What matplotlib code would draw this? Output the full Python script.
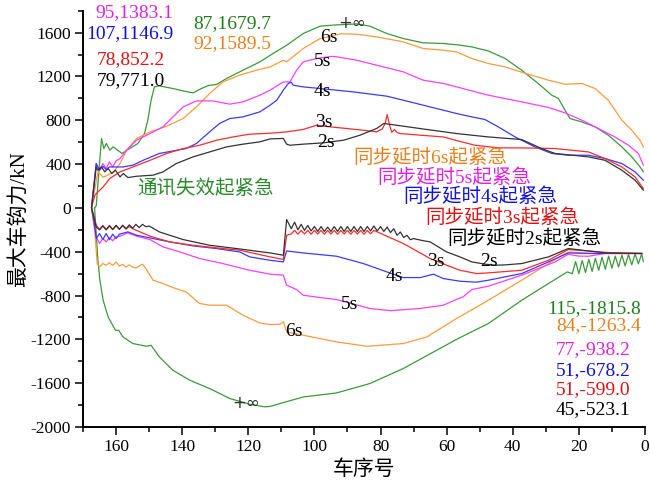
import matplotlib
matplotlib.use("Agg")
import matplotlib.pyplot as plt
from matplotlib.ticker import MultipleLocator

plt.rcParams['font.family'] = ['Liberation Serif', 'Noto Sans CJK SC', 'DejaVu Sans']
plt.rcParams['axes.unicode_minus'] = False

# ---- 最大拉钩力 (正) ----
x_inf_up = [166.5, 166.0, 164.4, 163.7, 162.9, 161.9, 160.9, 158.8, 158.2, 155.9, 153.4, 151.4,
            150.4, 149.4, 148.4, 146.9, 142.8, 139.7, 136.7, 134.2, 132.1, 129.6, 126.6, 121.6,
            116.5, 112.5, 108.4, 103.4, 98.3, 93.3, 87, 83.2, 78.1, 73.1, 67.1, 61, 56.5, 52.4,
            47.4, 42.3, 37.3, 32.3, 28.2, 26.2, 24.2, 22.7, 19.1, 15.1, 11.1, 7, 4, 1.5, 0.5]
y_inf_up = [0, 20, 634, 542, 588, 527, 557, 511, 497, 542, 588, 679,
            801, 983, 1105, 1114, 1090, 1068, 1050, 1090, 1117, 1127, 1181, 1257,
            1333, 1410, 1485, 1592, 1659, 1671, 1679.7, 1659, 1592, 1546, 1507, 1501, 1488, 1470,
            1433, 1364, 1257, 1136, 1029, 999, 892, 816, 785, 740, 664, 557, 466, 374, 329]

x_6s_up = [167.4, 165.5, 163.9, 162.8, 160.8, 158.8, 156.8, 153.8, 149.7, 144.7, 139.7, 135.7,
           131.7, 127.7, 122.6, 117.6, 113.4, 110.4, 109.4, 108.4, 103.4, 98.3, 92, 87.2, 81.2,
           73.1, 67.1, 61, 57, 52.4, 47.4, 42.3, 35.3, 29.2, 24.2, 19.1, 15.1, 11.1, 7, 4, 1.5, 0.5]
y_6s_up = [9, 329, 280, 295, 329, 405, 527, 634, 694, 746, 816, 922,
           1044, 1150, 1212, 1257, 1287, 1333, 1348, 1333, 1455, 1546, 1589.5, 1586, 1561,
           1516, 1455, 1440, 1424, 1364, 1318, 1287, 1220, 1166, 1129, 1136, 1090, 983, 801, 709, 618, 557]

x_5s_up = [167.4, 166, 165, 164, 163, 162, 161, 160, 158.8, 156.8, 153.8, 149.7, 145.8, 142.8,
           139.7, 135.7, 130.7, 125.6, 121.6, 116.5, 113.4, 109.4, 107.4, 105.4, 103.4, 99.3,
           95, 93.3, 87.2, 81.2, 73.1, 67.1, 61, 57, 47.4, 37.3, 29.2, 24.2, 19.1, 13.1, 9.1,
           5, 2, 0.5]
y_5s_up = [9, 405, 344, 405, 360, 420, 374, 430, 451, 527, 618, 679, 740, 831,
           922, 977, 977, 947, 968, 1029, 1075, 1150, 1150, 1257, 1333, 1364,
           1383.1, 1380, 1348, 1303, 1242, 1166, 1136, 1105, 1029, 968, 917, 868, 801, 709, 648,
           572, 497, 390]

x_4s_up = [167.4, 166, 165, 164, 163, 162, 160.8, 157.9, 154.9, 151.8, 146.9, 142.8, 138.8,
           135.7, 131.7, 128.7, 125.6, 121.6, 116.5, 113.4, 111.4, 109.4, 107.9, 107, 106.4,
           103.4, 98.3, 88.2, 78.1, 71.1, 65, 57, 52.4, 48.4, 44.4, 39.3, 33.3, 28.2, 23.2,
           17.1, 12.1, 7, 3, 0.5]
y_4s_up = [9, 405, 344, 380, 350, 374, 374, 374, 390, 435, 497, 520, 542,
           588, 694, 771, 816, 831, 877, 938, 983, 1075, 1136, 1146.9, 1120,
           1105, 1090, 1059, 1020, 968, 922, 862, 831, 807, 740, 648, 557, 497, 481,
           481, 451, 405, 329, 253]

x_3s_up = [167.4, 166.4, 165.5, 163.9, 161.9, 158.8, 154.9, 149.7, 144.7, 139.7, 134.7, 129.6,
           124.6, 119.6, 113.4, 108.4, 103.4, 99.3, 95.3, 90.2, 85.2, 81.2, 79.5, 78.6, 78,
           77.3, 76.6, 75.8, 75, 74.1, 68, 61, 57, 51.4, 44.4, 37.3, 27.2, 17.1, 12.1, 7, 3, 0.5]
y_3s_up = [9, 116, 146, 192, 268, 329, 374, 435, 497, 542, 572, 618,
           648, 673, 682, 694, 716, 755, 740, 725, 709, 694, 720, 771, 852.2,
           760, 690, 715, 690, 679, 664, 648, 615, 572, 548, 548, 542, 511, 451, 374, 283, 177]

x_2s_up = [167.4, 166, 165.5, 164.4, 163.4, 162.4, 161.3, 160.2, 158.8, 157.8, 156.4, 153.8,
           148.8, 145.8, 141.8, 136.7, 131.7, 126.6, 121.6, 116.5, 113.4, 109.4, 108.4, 107.4,
           103.4, 97.3, 91.2, 86.2, 81.2, 79, 73.1, 66, 57, 47.4, 37.3, 31.3, 27.2, 17.1, 12.1,
           7, 3, 0.5]
y_2s_up = [9, 374, 344, 374, 329, 360, 314, 344, 283, 314, 277, 289,
           299, 329, 405, 466, 511, 557, 582, 603, 630, 634, 582, 572,
           582, 594, 618, 664, 725, 771.0, 746, 716, 679, 648, 624, 542, 497, 466, 435,
           344, 253, 162]

# ---- 最大压钩力 (负) ----
x_inf_dn = [166.5, 166, 165.5, 164.9, 163.9, 162.4, 160.2, 159.2, 157.9, 154.9, 150.8, 149.4,
            146.9, 142.8, 137.7, 131.7, 125.6, 119.6, 115, 113.4, 103.4, 93.3, 83.2, 73.1, 63,
            57, 52.4, 47.4, 37.3, 29.2, 23.5,
            22, 21, 20, 19, 18, 17, 16, 15, 14, 13, 12, 11, 10, 9, 8, 7, 6, 5, 4, 3, 2, 1, 0.5]
y_inf_dn = [0, -234, -477, -660, -843, -995, -1117, -1117, -1178, -1238, -1263, -1254,
            -1360, -1482, -1573, -1649, -1740, -1792, -1815.8, -1812, -1726, -1689, -1603, -1466, -1299,
            -1200, -1130, -1056, -843, -690, -584,
            -600, -490, -600, -480, -590, -470, -580, -460, -570, -450, -560, -440, -550, -440,
            -540, -430, -530, -425, -520, -420, -510, -420, -490]

x_6s_dn = [167.4, 166.4, 165.7, 165, 164, 163, 162, 161, 160, 159, 158, 157, 156, 155, 154,
           153, 152, 151, 148.8, 145.8, 142.8, 138.8, 134.7, 131.7, 126.6, 121.6, 116.5, 113.4,
           110.4, 109.4, 108.4, 103.4, 93.3, 84, 73.1, 66, 57, 47.4, 37.3, 29.2, 24.2, 22.7,
           17.1, 1]
y_6s_dn = [0, -234, -508, -539, -508, -523, -500, -525, -493, -532, -515, -539, -520, -540, -548,
           -530, -514, -553, -660, -690, -727, -767, -873, -888, -888, -980, -1050, -1065,
           -1062, -1040, -1132, -1162, -1223, -1263.4, -1238, -1178, -1010, -843, -660, -508, -416, -402,
           -416, -416]

x_5s_dn = [167.4, 166, 165, 164, 163, 162, 161, 160, 158.8, 156.4, 153.8, 149.7, 145.8, 140.7,
           134.7, 127.7, 119.6, 113.4, 109.4, 108.4, 105.4, 103.4, 98.3, 93.3, 83.2, 77, 68, 61,
           57, 55, 52.4, 47.4, 37.3, 27.2, 23.2, 20, 17.1, 12, 1]
y_5s_dn = [0, -265, -325, -280, -310, -270, -300, -265, -258, -228, -258, -289, -356, -402,
           -462, -508, -569, -605, -614, -706, -745, -797, -818, -836, -918, -938.2, -918, -888,
           -835, -812, -745, -715, -614, -493, -423, -440, -441, -416, -416]

x_4s_dn = [167.4, 166.4, 166, 165, 164, 163, 162, 161, 160, 159, 156.4, 153.8, 149.7, 143.8,
           136.7, 129.6, 122.6, 119.6, 113.4, 109.4, 108.4, 103.4, 93.3, 85.2, 78.1, 73.1, 68,
           64, 61, 56, 51, 47.4, 37.3, 29.2, 23.2, 17, 1]
y_4s_dn = [0, -173, -280, -234, -289, -234, -289, -240, -280, -240, -219, -249, -274, -310,
           -347, -371, -402, -447, -478, -493, -393, -411, -441, -508, -584, -636, -636,
           -605, -645, -669, -678.2, -660, -599, -493, -411, -415, -416]

x_3s_dn = [167.4, 166, 165, 164, 163, 162, 161, 160, 159, 158, 157, 156, 155, 149.7, 143.8,
           136.7, 129.6, 122.6, 113.4, 109.4, 108.4,
           107, 106, 105, 104, 103, 102, 101, 100, 99, 98, 97, 96, 95, 94, 93, 92, 91, 90,
           89, 88, 87, 86, 85, 84, 83, 82, 81,
           73.1, 65, 60, 56, 51, 47.4, 37.3, 29.2, 23.2, 17.1, 10, 1]
y_3s_dn = [0, -158, -197, -160, -197, -160, -197, -160, -195, -162, -193, -170, -190, -258, -310,
           -341, -365, -386, -447, -471, -249,
           -238, -205, -240, -205, -238, -205, -240, -205, -238, -205, -240, -206, -238, -205,
           -240, -206, -238, -205, -240, -206, -238, -205, -240, -206, -236, -205, -219,
           -325, -462, -523, -569, -599.0, -593, -569, -478, -380, -393, -410, -416]

x_2s_dn = [167.4, 166, 165, 164, 163, 162, 161, 160, 159, 158, 157, 156, 155, 154, 153, 152,
           151, 150, 146.9, 139.7, 131.7, 123.6, 113.4, 109.4, 108.4,
           107, 106, 105, 104, 103, 102, 101, 100, 99, 98, 97, 96, 95, 94, 93, 92, 91, 90,
           89, 88, 87, 86, 85, 84, 83, 82, 81, 80, 79, 78, 77, 76, 75, 74, 73, 72, 71, 70,
           67, 65, 60, 56, 52.4, 48, 45, 42.3, 37.3, 29.2, 23.2, 17.1, 12, 1]
y_2s_dn = [0, -173, -200, -165, -200, -165, -198, -160, -195, -158, -190, -155, -185, -150, -180,
           -150, -172, -165, -219, -289, -341, -371, -411, -432, -106,
           -190, -130, -200, -150, -205, -160, -210, -170, -215, -170, -215, -175, -215, -170,
           -215, -170, -215, -170, -215, -170, -215, -170, -215, -170, -210, -165, -210, -170,
           -215, -175, -225, -190, -250, -220, -270, -250, -290, -280,
           -300, -310, -402, -447, -493, -515, -523.1, -520, -508, -447, -371, -393, -411, -416]

series = [
    (x_inf_up, y_inf_up, x_inf_dn, y_inf_dn, '#3a9a3a'),
    (x_6s_up, y_6s_up, x_6s_dn, y_6s_dn, '#ff9a3c'),
    (x_5s_up, y_5s_up, x_5s_dn, y_5s_dn, '#ff3cff'),
    (x_4s_up, y_4s_up, x_4s_dn, y_4s_dn, '#3a3aff'),
    (x_3s_up, y_3s_up, x_3s_dn, y_3s_dn, '#ff2a2a'),
    (x_2s_up, y_2s_up, x_2s_dn, y_2s_dn, '#333333'),
]

fig = plt.figure(figsize=(6.5, 4.88), dpi=100)
ax = fig.add_axes([0.1277, 0.125, 0.8646, 0.853])

for xu, yu, xd, yd, c in series:
    ax.plot(xu, yu, color=c, lw=0.9)
    ax.plot(xd, yd, color=c, lw=0.9)

ax.set_xlim(170, 0)
ax.set_ylim(-2000, 1800)
ax.xaxis.set_major_locator(MultipleLocator(20))
ax.xaxis.set_minor_locator(MultipleLocator(10))
ax.set_yticks(range(-2000, 1601, 400))
ax.yaxis.set_minor_locator(MultipleLocator(200))
ax.tick_params(which='major', direction='out', length=6, width=1.1, labelsize=12.5, pad=2.5)
ax.tick_params(which='minor', direction='out', length=3.5, width=1.1)
for s in ['top', 'right']:
    ax.spines[s].set_visible(False)
for s in ['left', 'bottom']:
    ax.spines[s].set_linewidth(1.4)

ax.set_xlabel('车序号', fontsize=15, labelpad=4)
ax.set_ylabel('最大车钩力/kN', fontsize=15, labelpad=1)

fs = 14
# 极值标注 (车序号, 钩力)
ax.text(154.6, 1785, '95,1383.1', color='#e020e0', fontsize=fs, ha='center', va='center')
ax.text(155.8, 1592, '107,1146.9', color='#1010e0', fontsize=fs, ha='center', va='center')
ax.text(155.5, 1358, '78,852.2', color='#e01010', fontsize=fs, ha='center', va='center')
ax.text(155.5, 1166, '79,771.0', color='black', fontsize=fs, ha='center', va='center')
ax.text(124.8, 1686, '87,1679.7', color='#1e7e1e', fontsize=fs, ha='center', va='center')
ax.text(124.8, 1501, '92,1589.5', color='#e8801e', fontsize=fs, ha='center', va='center')

ax.text(29.6, -919, '115,-1815.8', color='#1e7e1e', fontsize=fs, ha='left', va='center')
ax.text(26.9, -1078, '84,-1263.4', color='#e8801e', fontsize=fs, ha='left', va='center')
ax.text(26.9, -1290, '77,-938.2', color='#e020e0', fontsize=fs, ha='left', va='center')
ax.text(26.9, -1482, '51,-678.2', color='#1010e0', fontsize=fs, ha='left', va='center')
ax.text(26.9, -1655, '51,-599.0', color='#e01010', fontsize=fs, ha='left', va='center')
ax.text(26.9, -1838, '45,-523.1', color='black', fontsize=fs, ha='left', va='center')

# 工况说明
ax.text(133.1, 171, '通讯失效起紧急', color='#2a8a2a', fontsize=fs, ha='center', va='center')
ax.text(65.0, 458, '同步延时6s起紧急', color='#e8801e', fontsize=fs, ha='center', va='center')
ax.text(57.8, 276, '同步延时5s起紧急', color='#e020e0', fontsize=fs, ha='center', va='center')
ax.text(49.9, 98, '同步延时4s起紧急', color='#1010e0', fontsize=fs, ha='center', va='center')
ax.text(43.3, -94, '同步延时3s起紧急', color='#e01010', fontsize=fs, ha='center', va='center')
ax.text(36.6, -277, '同步延时2s起紧急', color='black', fontsize=fs, ha='center', va='center')

# 曲线标签
for lx, ly, t in [(95.6, 1554, '6s'), (97.5, 1333, '5s'), (97.5, 1066, '4s'),
                  (97.1, 778, '3s'), (96.6, 595, '2s'),
                  (106.2, -1126, '6s'), (89.5, -879, '5s'), (75.9, -623, '4s'),
                  (63.2, -487, '3s'), (47.2, -487, '2s')]:
    ax.text(lx, ly, t, color='black', fontsize=fs, ha='center', va='center')
ax.text(88.5, 1691, '+∞', color='#333333', fontsize=12, ha='center', va='center', family='DejaVu Sans')
ax.text(120.7, -1778, '+∞', color='#333333', fontsize=12, ha='center', va='center', family='DejaVu Sans')

fig.savefig('out.png', dpi=100)
